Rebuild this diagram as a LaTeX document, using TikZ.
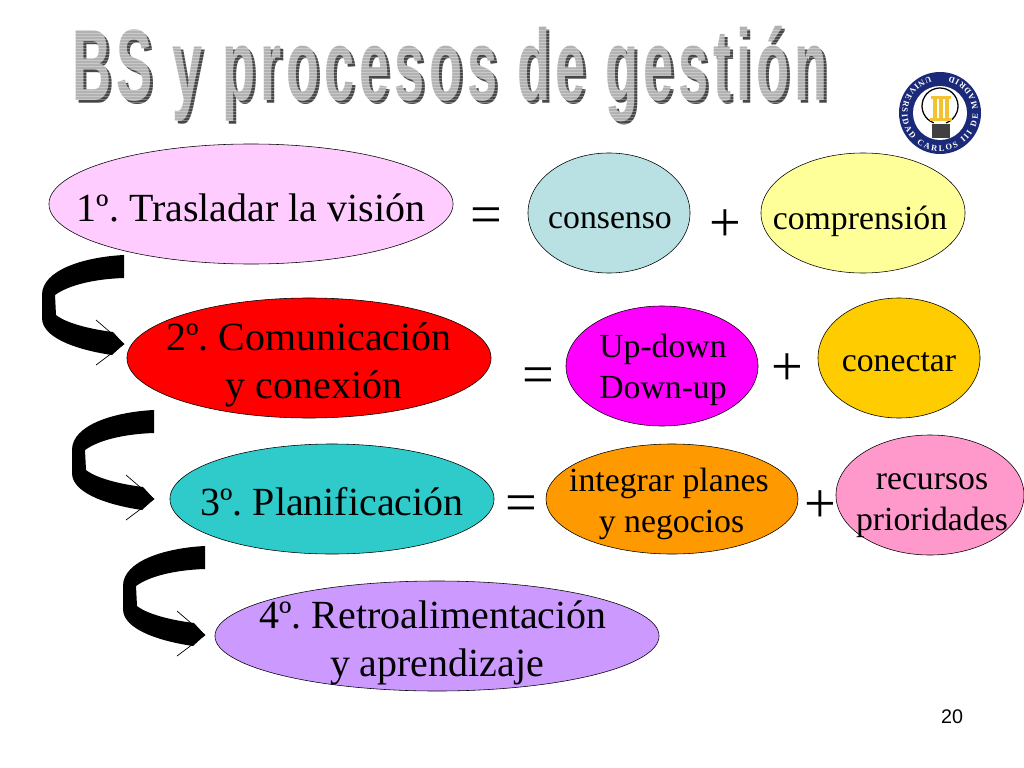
\documentclass[tikz,border=0pt]{standalone}
\usepackage{fontspec}
\setmainfont{Liberation Serif}
\newfontfamily\titulofont[LetterSpace=9]{Liberation Sans}
\newfontfamily\numerofont{Liberation Sans}
\frenchspacing
\usepackage{tikz}
\usetikzlibrary{shapes.geometric,positioning,calc}
\usetikzlibrary{decorations.text}
\definecolor{rosa}{HTML}{FFCCFF}
\definecolor{celeste}{HTML}{B9E1E3}
\definecolor{crema}{HTML}{FFFF99}
\definecolor{oro}{HTML}{FFCC00}
\definecolor{turquesa}{HTML}{2FCBCB}
\definecolor{naranja}{HTML}{FF9900}
\definecolor{chicle}{HTML}{FF99CC}
\definecolor{lila}{HTML}{CC99FF}
\definecolor{fucsia}{HTML}{FF00FF}
\definecolor{rojo}{HTML}{FF0000}
\definecolor{marino}{HTML}{1B2A78}
\definecolor{columna}{HTML}{F2C230}
\tikzstyle{elipse} = [ellipse, draw=black, inner sep=-1cm, outer sep=0pt]
\tikzstyle{paso} = [inner sep=0pt, align=center, font=\fontsize{28.4}{34}\selectfont]
\tikzstyle{idea} = [inner sep=0pt, align=center, font=\fontsize{24}{29}\selectfont]
\tikzstyle{signo} = [inner sep=0pt, font=\fontsize{40}{40}\selectfont]
\tikzstyle{titulo} = [inner sep=0pt, xscale=0.535, transform shape, font=\titulofont\bfseries\fontsize{72}{72}\selectfont]
\tikzset{flecha/.pic={
	\fill[black] (0,0) .. controls (-40,2) and (-82,15) .. (-82,40) -- (-82,63) .. controls (-82,85) and (-40,96) .. (-12,100) -- (0,89) -- (-11,77) .. controls (-35,74) and (-58,68) .. (-68,60) -- (-69,40) .. controls (-55,30) and (-30,24) .. (0,23) -- cycle;
	\draw[black,line width=0.5pt] (-28,65) -- (0,89) -- (-28,110);
}}
\begin{document}
\begin{tikzpicture}[x=0.025cm,y=-0.025cm]
	\useasboundingbox (0,0) rectangle (1024,768);
	\node[titulo,text=black!72] (s) at (453,77) {BS y procesos de gestión};
	\node[titulo,text=black!30] (t) at (450,74) {BS y procesos de gestión};
	\foreach \y in {30,33,...,129}
		\draw[white,opacity=0.3,line width=0.6pt] (70,\y) -- (830,\y);

	\fill[marino] (940,113) circle (41);
	\fill[white] (940,113) circle (27);
	\draw[black,line width=0.9pt] (940,106) ++(110:18) arc (110:430:18);
	\fill[columna] (931,96) rectangle (951,99);
	\fill[columna] (930,118) rectangle (952,121);
	\foreach \x in {933,939,945}
		\fill[columna] (\x,99) rectangle (\x+4,118);
	\fill[black!75] (932,124) rectangle (950,138);
	\path[postaction={decorate,decoration={text along path,text align={fit to path},text={|\fontsize{6}{6}\selectfont\bfseries\color{white}|UNIVERSIDAD CARLOS III DE MADRID}}}]
		(940,113) ++(255:38) arc (255:-75:38);

	\node (p1) at (251,204) [elipse,fill=rosa,minimum width=10.1cm,minimum height=3cm] {};
	\node (tp1) at (251,208) [paso] {1º. Trasladar la visión};
	\node (i1) at (486,221) [signo] {=};
	\node (c1) at (609,213) [elipse,fill=celeste,minimum width=4.05cm,minimum height=3cm] {};
	\node (tc1) at (610,221) [idea] {consenso};
	\node (m1) at (725,226) [signo] {+};
	\node (d1) at (863,213) [elipse,fill=crema,minimum width=5.1cm,minimum height=3cm] {};
	\node (td1) at (860,221) [idea] {comprensión};

	\node (p2) at (309,358) [elipse,fill=rojo,minimum width=9.1cm,minimum height=3cm] {};
	\node (tp2) at (309,365) [paso] {2º. Comunicación\\\hspace*{0.25em}y conexión};
	\node (i2) at (538,381) [signo] {=};
	\node (c2) at (662,366) [elipse,fill=fucsia,minimum width=4.8cm,minimum height=3cm] {};
	\node (tc2) at (663,370) [idea] {Up-down\\Down-up};
	\node (m2) at (787,370) [signo] {+};
	\node (d2) at (899,358) [elipse,fill=oro,minimum width=4.05cm,minimum height=3cm] {};
	\node (td2) at (899,362) [idea] {conectar};

	\node (p3) at (332,499) [elipse,fill=turquesa,minimum width=8.1cm,minimum height=2.75cm] {};
	\node (tp3) at (332,502) [paso] {3º. Planificación};
	\node (i3) at (521,509) [signo] {=};
	\node (c3) at (672,499) [elipse,fill=naranja,minimum width=6.3cm,minimum height=2.75cm] {};
	\node (tc3) at (669,504) [idea] {integrar planes\\\hspace*{0.15em}y negocios};
	\node (d3) at (930,495) [elipse,fill=chicle,minimum width=4.7cm,minimum height=3cm] {};
	\node (td3) at (932,506) [idea] {recursos\\prioridades};
	\node (m3) at (820,507) [signo] {+};

	\node (p4) at (437,636) [elipse,fill=lila,minimum width=11.1cm,minimum height=2.75cm] {};
	\node (tp4) at (433,643) [paso] {4º. Retroalimentación\\\hspace*{0.2em}y aprendizaje};

	\pic at (124,255) {flecha};
	\pic at (154,410) {flecha};
	\pic at (205,546) {flecha};

	\node[inner sep=0pt,font=\numerofont\fontsize{14}{14}\selectfont] (n) at (952,717) {20};
\end{tikzpicture}
\end{document}
